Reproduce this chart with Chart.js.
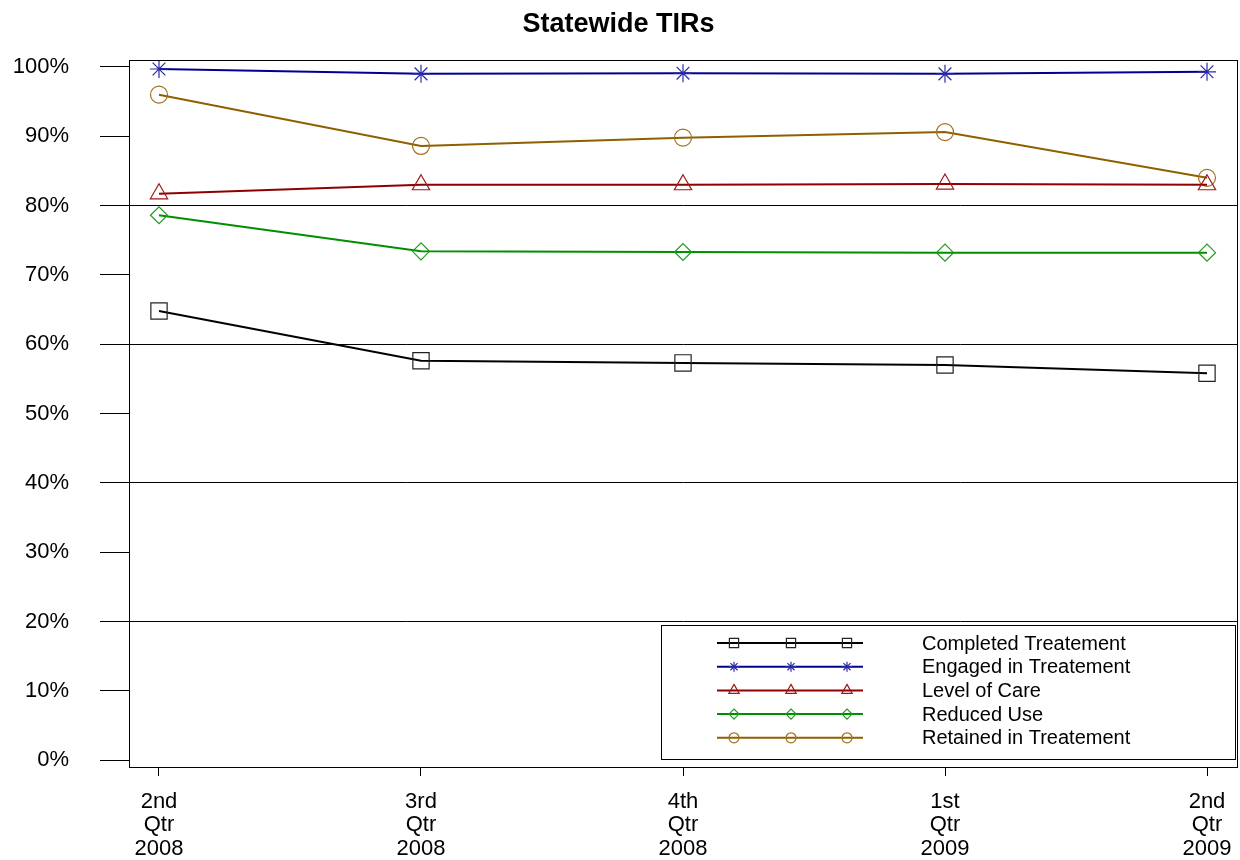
<!DOCTYPE html>
<html>
<head>
<meta charset="utf-8">
<script src="https://cdn.jsdelivr.net/npm/chart.js@4.4.1/dist/chart.umd.min.js"></script>
<style>
  html, body { margin: 0; padding: 0; background: #fff; }
  #wrap { width: 1240px; height: 860px; }
</style>
</head>
<body>
<div id="wrap"><canvas id="c" width="1240" height="860"></canvas></div>
<script>
const categories = [["2nd","Qtr","2008"],["3rd","Qtr","2008"],["4th","Qtr","2008"],["1st","Qtr","2009"],["2nd","Qtr","2009"]];
const yTicks = [0,10,20,30,40,50,60,70,80,90,100];
const completed = [64.8, 57.6, 57.3, 57.0, 55.8];
const engaged   = [99.7, 99.0, 99.1, 99.0, 99.3];
const levelCare = [81.7, 83.0, 83.0, 83.1, 83.0];
const reduced   = [78.6, 73.4, 73.3, 73.2, 73.2];
const retained  = [96.0, 88.6, 89.8, 90.6, 84.0];

const FONT = "'Liberation Sans', Arial, sans-serif";

function pts(arr) { return arr.map((v, i) => ({ x: i, y: v })); }

const series = [
  { label: 'Completed Treatement', data: completed, color: '#000000', mcolor: '#222222', style: 'rect', r: 11.5, lr: 6.5 },
  { label: 'Engaged in Treatement', data: engaged, color: '#00008f', mcolor: '#2a2aa8', style: 'star', r: 9, lr: 5 },
  { label: 'Level of Care', data: levelCare, color: '#8f0000', mcolor: '#a01818', style: 'triangle', r: 10, lr: 6 },
  { label: 'Reduced Use', data: reduced, color: '#008f00', mcolor: '#1f9a1f', style: 'rectRot', r: 8.5, lr: 5 },
  { label: 'Retained in Treatement', data: retained, color: '#8f5f00', mcolor: '#a0701a', style: 'circle', r: 8.5, lr: 5 }
];

const datasets = series.map(s => ({
  label: s.label,
  data: pts(s.data),
  borderColor: s.color,
  backgroundColor: 'rgba(0,0,0,0)',
  borderWidth: 2,
  pointStyle: s.style,
  pointRadius: s.r,
  pointHoverRadius: s.r,
  pointBorderColor: s.mcolor,
  pointBackgroundColor: 'rgba(0,0,0,0)',
  pointBorderWidth: 1.2,
  legendRadius: s.lr,
  tension: 0,
  clip: false
}));

const frame = {
  id: 'frame',
  afterDraw(chart) {
    const ctx = chart.ctx, a = chart.chartArea;
    ctx.save();
    ctx.strokeStyle = '#000';
    ctx.lineWidth = 1;
    ctx.strokeRect(Math.round(a.left) + 0.5, Math.round(a.top) + 0.5, Math.round(a.right - a.left), Math.round(a.bottom - a.top));
    // legend box
    const bx = 661, by = 625, bw = 574, bh = 134;
    ctx.fillStyle = '#fff';
    ctx.fillRect(bx, by, bw, bh);
    ctx.strokeRect(bx + 0.5, by + 0.5, bw, bh);
    const rowY0 = 643, rowStep = 23.7;
    chart.data.datasets.forEach((ds, i) => {
      const y = rowY0 + i * rowStep;
      ctx.strokeStyle = ds.borderColor;
      ctx.lineWidth = 2;
      ctx.beginPath();
      ctx.moveTo(717, y);
      ctx.lineTo(863, y);
      ctx.stroke();
      [734, 791, 847].forEach(mx => {
        ctx.strokeStyle = ds.pointBorderColor;
        ctx.fillStyle = 'rgba(0,0,0,0)';
        ctx.lineWidth = 1.2;
        Chart.helpers.drawPoint(ctx, { pointStyle: ds.pointStyle, radius: ds.legendRadius, borderWidth: 1.2, rotation: 0 }, mx, y);
      });
      ctx.fillStyle = '#000';
      ctx.font = '20px ' + FONT;
      ctx.textAlign = 'left';
      ctx.textBaseline = 'middle';
      ctx.fillText(ds.label, 922, y + 1);
    });
    ctx.restore();
  }
};

new Chart(document.getElementById('c'), {
  type: 'line',
  data: { datasets },
  options: {
    responsive: false,
    animation: false,
    devicePixelRatio: 1,
    layout: { autoPadding: false, padding: { left: 0, right: 3, top: 0, bottom: 0 } },
    plugins: {
      legend: { display: false },
      tooltip: { enabled: false },
      title: {
        display: true,
        text: 'Statewide TIRs',
        color: '#000',
        font: { family: FONT, size: 27, weight: 'bold', lineHeight: 1.2 },
        padding: { top: 8, bottom: 19.6 }
      }
    },
    scales: {
      x: {
        type: 'linear',
        min: -0.1145,
        max: 4.1145,
        afterBuildTicks(scale) { scale.ticks = categories.map((c, i) => ({ value: i })); },
        afterFit(scale) { scale.height = 93; scale.paddingLeft = 0; scale.paddingRight = 0; },
        ticks: {
          color: '#000',
          font: { family: FONT, size: 22, lineHeight: 1.07 },
          padding: 14,
          maxRotation: 0,
          autoSkip: false,
          callback: (v) => categories[v]
        },
        grid: { drawOnChartArea: false, drawTicks: true, tickLength: 9, tickColor: '#000', tickWidth: 1 },
        border: { display: true, color: '#000', width: 1 }
      },
      y: {
        type: 'linear',
        min: -1,
        max: 101,
        afterBuildTicks(scale) { scale.ticks = yTicks.map(v => ({ value: v })); },
        afterFit(scale) { scale.width = 129; },
        ticks: {
          color: '#000',
          font: { family: FONT, size: 22 },
          padding: 31,
          callback: (v) => v + '%'
        },
        grid: {
          drawOnChartArea: true,
          drawTicks: true,
          tickLength: 29,
          tickColor: '#000',
          lineWidth: 1,
          color: (ctx) => (ctx.tick && [20,40,60,80].includes(ctx.tick.value)) ? '#000' : 'rgba(0,0,0,0)'
        },
        border: { display: true, color: '#000', width: 1 }
      }
    }
  },
  plugins: [frame]
});
</script>
</body>
</html>
